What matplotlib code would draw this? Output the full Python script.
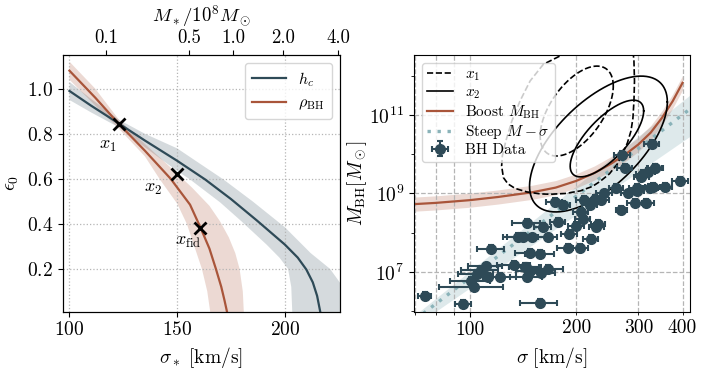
import numpy as np
import matplotlib
matplotlib.use('Agg')
import matplotlib.pyplot as plt
from matplotlib.lines import Line2D

plt.rcParams['font.family'] = 'serif'
plt.rcParams['font.serif'] = ['cmr10']
plt.rcParams['mathtext.fontset'] = 'cm'
plt.rcParams['axes.formatter.use_mathtext'] = True
plt.rcParams['font.size'] = 13
plt.rcParams['xtick.labelsize'] = 14
plt.rcParams['ytick.labelsize'] = 14

slate = '#2e4a57'
rust = '#a9553a'
teal = '#8ab3b9'

# ---- left panel data: eps_0 vs sigma_*
hc_sigma = [100, 110, 123, 135, 150, 163, 175, 187, 200, 206, 210, 213, 215, 216.4]
hc_eps = [0.99, 0.925, 0.845, 0.77, 0.68, 0.597, 0.51, 0.415, 0.308, 0.25, 0.197, 0.14, 0.08, 0.012]
hc_hi_sigma = [100, 110, 123, 135, 150, 171.5, 185, 200, 212, 221, 227, 230]
hc_hi_eps = [1.03, 0.955, 0.862, 0.80, 0.735, 0.597, 0.50, 0.385, 0.27, 0.2, 0.12, 0.0]
hc_lo_sigma = [100, 110, 123, 135, 150, 156, 170, 180, 191.5, 197.5, 201.5, 203, 203.5]
hc_lo_eps = [0.95, 0.895, 0.828, 0.74, 0.635, 0.597, 0.495, 0.41, 0.308, 0.25, 0.2, 0.12, 0.0]

rho_sigma = [100, 112, 123, 135, 147, 156, 161, 165, 168, 170.5, 172, 173.1]
rho_eps = [1.08, 0.96, 0.843, 0.725, 0.60, 0.485, 0.38, 0.29, 0.2, 0.12, 0.06, 0.012]
rho_hi_sigma = [100, 112, 123, 135, 147, 157, 165, 170, 174, 177, 179, 180.5, 181]
rho_hi_eps = [1.12, 1.0, 0.862, 0.755, 0.65, 0.56, 0.48, 0.41, 0.34, 0.27, 0.2, 0.1, 0.0]
rho_lo_sigma = [100, 112, 123, 135, 142, 150, 154.5, 158, 161.5, 164, 165.5]
rho_lo_eps = [1.04, 0.925, 0.822, 0.70, 0.597, 0.49, 0.40, 0.30, 0.2, 0.1, 0.0]

pt_names = [r'$x_1$', r'$x_2$', r'$x_{\rm fid}$']
pt_sigma = [123.2, 150, 160.5]
pt_eps = [0.841, 0.62, 0.38]
pt_label_offsets = [(-8, -16), (-17, -11), (-8, -10)]

top_tick_sigma = [117.1, 155.6, 176, 199.1, 224.9]
top_tick_labels = ['0.1', '0.5', '1.0', '2.0', '4.0']

# ---- right panel data: M_BH vs sigma
boost_sigma = [60, 70, 80, 100, 120, 150, 175, 200, 225, 250, 275, 300, 325, 350, 375, 400]
boost_logM = [8.70, 8.73, 8.76, 8.83, 8.91, 9.03, 9.15, 9.32, 9.52, 9.75, 9.99, 10.25, 10.55, 10.93, 11.35, 11.82]
boost_width = 0.18

steep_norm, steep_slope = 8.93, 6.9      # log M at 200 km/s, slope
steep_lo_norm, steep_lo_slope = 8.46, 6.2
steep_hi_norm, steep_hi_slope = 9.19, 7.2

# confidence ellipses in (log sigma, log M): centre x, half-width x, centre y, half-height y, correlation
x1_inner = (2.3025, 0.1035, 11.1, 1.145, 0.555)
x2_inner = (2.388, 0.104, 10.40, 0.977, 0.72)
x2_outer = (2.364, 0.195, 10.26, 1.73, 0.62)
x1o_logsig = [2.27, 2.2605, 2.208, 2.1705, 2.142, 2.119, 2.102, 2.092, 2.090, 2.095, 2.108, 2.128,
              2.161, 2.199, 2.227, 2.270, 2.3125, 2.347, 2.369, 2.395, 2.417, 2.432, 2.446, 2.456,
              2.4616, 2.4645, 2.466, 2.4645, 2.46, 2.36, 2.27]
x1o_logM = [12.9, 12.527, 12.29, 11.865, 11.356, 10.847, 10.338, 9.957, 9.70, 9.405, 9.244, 9.13,
            9.04, 8.99, 8.98, 9.0, 9.066, 9.18, 9.31, 9.50, 9.745, 10.01, 10.29, 10.59,
            10.92, 11.356, 11.865, 12.374, 12.8, 13.3, 12.9]

bh_sigma = [74.5, 95.7, 158, 103, 100.7, 107.5, 111, 112.7, 104.5, 122, 133.6, 144, 145, 143, 148,
            159, 166, 114.7, 148.4, 158, 136.5, 141, 150, 145, 160.7, 166, 177.4, 189, 205.5, 191.4,
            200, 209, 220, 228, 231, 206.5, 173.8, 183.3, 218.3, 225.6, 235.6, 240, 268.5, 293, 316,
            260, 280.5, 296.5, 306, 320, 334, 330, 356, 393.6, 270, 328, 335, 310, 274, 324.5, 297, 210]
bh_logM = [6.40, 6.19, 6.21, 6.63, 6.78, 7.06, 7.14, 6.87, 6.95, 6.88, 7.18, 7.13, 6.86, 7.12, 7.03,
           6.98, 7.08, 7.58, 7.49, 7.47, 7.90, 7.90, 7.88, 8.25, 8.14, 7.88, 8.28, 7.62, 7.62, 7.96,
           8.17, 8.34, 7.83, 8.15, 8.22, 8.53, 8.79, 8.70, 8.70, 8.87, 8.83, 9.00, 8.59, 8.77, 8.75,
           9.13, 9.00, 9.15, 9.42, 9.55, 9.64, 9.17, 9.17, 9.32, 9.98, 10.25, 9.66, 9.49, 9.66, 9.15, 9.07, 8.84]
bh_sigma_err = [3, 5, 19, 21, 13, 13, 12, 10, 12, 13, 14, 15, 15, 14, 13,
                15, 17, 10, 14, 15, 12, 14, 14, 13, 9, 10, 9, 12, 10, 10,
                10, 10, 11, 11, 11, 10, 9, 9, 10, 11, 12, 12, 10, 14, 17,
                12, 13, 14, 15, 15, 16, 16, 17, 21, 14, 16, 16, 15, 13, 16, 14, 10]
bh_logM_err = 0.1

fig = plt.figure(figsize=(7.06, 3.71), dpi=100)
ax1 = fig.add_axes([0.0892, 0.160, 0.392, 0.692])
ax2 = fig.add_axes([0.5864, 0.160, 0.391, 0.692])

# ---------------- left panel
ax1.fill(np.concatenate([hc_hi_sigma, hc_lo_sigma[::-1]]),
         np.concatenate([hc_hi_eps, hc_lo_eps[::-1]]), color=slate, alpha=0.2, lw=0)
ax1.fill(np.concatenate([rho_hi_sigma, rho_lo_sigma[::-1]]),
         np.concatenate([rho_hi_eps, rho_lo_eps[::-1]]), color=rust, alpha=0.22, lw=0)
ax1.plot(hc_sigma, hc_eps, color=slate, lw=1.6, label=r'$h_c$')
ax1.plot(rho_sigma, rho_eps, color=rust, lw=1.6, label=r'$\rho_{\rm BH}$')
ax1.plot(pt_sigma, pt_eps, 'x', color='k', ms=8, mew=2, zorder=5)
for name, s, e, off in zip(pt_names, pt_sigma, pt_eps, pt_label_offsets):
    ax1.annotate(name, (s, e), xytext=off, textcoords='offset points',
                 ha='center', va='center', fontsize=13)

ax1.set_xlim(97, 225.5)
ax1.set_ylim(0.01, 1.15)
ax1.set_xticks([100, 150, 200])
ax1.set_yticks([0.2, 0.4, 0.6, 0.8, 1.0])
ax1.grid(True, ls=':', color='#b5b5b5', lw=0.9)
ax1.set_xlabel(r'$\sigma_*\ [{\rm km/s}]$', fontsize=14)
ax1.set_ylabel(r'$\epsilon_0$', fontsize=14)
ax1.legend(loc='upper right', fontsize=11.5, framealpha=0.8, handlelength=2.1,
           borderpad=0.45, labelspacing=0.45)

top = ax1.twiny()
top.set_xlim(ax1.get_xlim())
top.set_xticks(top_tick_sigma)
top.set_xticklabels(top_tick_labels)
top.tick_params(axis='x', labelsize=13.5, pad=2.5)
top.set_xlabel(r'$M_*/10^8 M_\odot$', fontsize=13.5, labelpad=5)

# ---------------- right panel
ax2.set_xscale('log')
ax2.set_yscale('log')

sig = np.geomspace(60, 450, 200)
ls = np.log10(sig / 200)
ax2.fill_between(sig, 10 ** (steep_lo_norm + steep_lo_slope * ls), 10 ** (steep_hi_norm + steep_hi_slope * ls),
                 color=teal, alpha=0.28, lw=0)
ax2.plot(sig, 10 ** (steep_norm + steep_slope * ls), color=teal, lw=2.4, ls=(0, (1, 2)))

bl = np.array(boost_logM)
ax2.fill_between(boost_sigma, 10 ** (bl - boost_width), 10 ** (bl + boost_width), color=rust, alpha=0.22, lw=0)
ax2.plot(boost_sigma, 10 ** bl, color=rust, lw=1.6)

t = np.linspace(0, 2 * np.pi, 300)
def ellipse(p):
    cx, a, cy, b, r = p
    x = cx + a * np.cos(t)
    y = cy + b * (r * np.cos(t) + np.sqrt(1 - r ** 2) * np.sin(t))
    return 10 ** x, 10 ** y

ax2.plot(10 ** np.array(x1o_logsig), 10 ** np.array(x1o_logM), 'k--', lw=1.2)
ax2.plot(*ellipse(x1_inner), 'k--', lw=1.2)
ax2.plot(*ellipse(x2_outer), 'k-', lw=1.2)
ax2.plot(*ellipse(x2_inner), 'k-', lw=1.2)

bm = 10 ** np.array(bh_logM)
yerr = [bm * (1 - 10 ** -bh_logM_err), bm * (10 ** bh_logM_err - 1)]
eb = ax2.errorbar(bh_sigma, bm, xerr=bh_sigma_err, yerr=yerr, fmt='o', color=slate, ms=7,
                  capsize=2.5, elinewidth=1.5, capthick=1.5, zorder=4)

ax2.set_xlim(69.5, 420)
ax2.set_ylim(10 ** 5.99, 10 ** 12.53)
ax2.set_xticks([100], ['100'])
ax2.set_xticks([70, 80, 90, 200, 300, 400], ['', '', '', '200', '300', '400'], minor=True)
ax2.tick_params(axis='x', which='minor', labelsize=14)
ax2.set_yticks([1e7, 1e9, 1e11])
ax2.set_yticks([1e6, 1e8, 1e10, 1e12], [''] * 4, minor=True)
ax2.grid(True, which='both', axis='x', ls='--', color='#b5b5b5', lw=0.9)
ax2.grid(True, which='major', axis='y', ls='--', color='#b5b5b5', lw=0.9)
ax2.set_xlabel(r'$\sigma\ [{\rm km/s}]$', fontsize=14)
ax2.set_ylabel(r'$M_{\rm BH}[M_\odot]$', fontsize=14, labelpad=0)

handles = [Line2D([], [], color='k', ls='--', lw=1.2),
           Line2D([], [], color='k', ls='-', lw=1.2),
           Line2D([], [], color=rust, lw=1.6),
           Line2D([], [], color=teal, lw=2.4, ls=(0, (1, 2))),
           eb]
labels = [r'$x_1$', r'$x_2$', r'Boost $M_{\rm BH}$', r'Steep $M-\sigma$', 'BH Data']
ax2.legend(handles, labels, loc='upper left', fontsize=11, framealpha=0.8,
           handlelength=1.7, labelspacing=0.15, borderpad=0.35)

fig.savefig('out.png', dpi=100)
